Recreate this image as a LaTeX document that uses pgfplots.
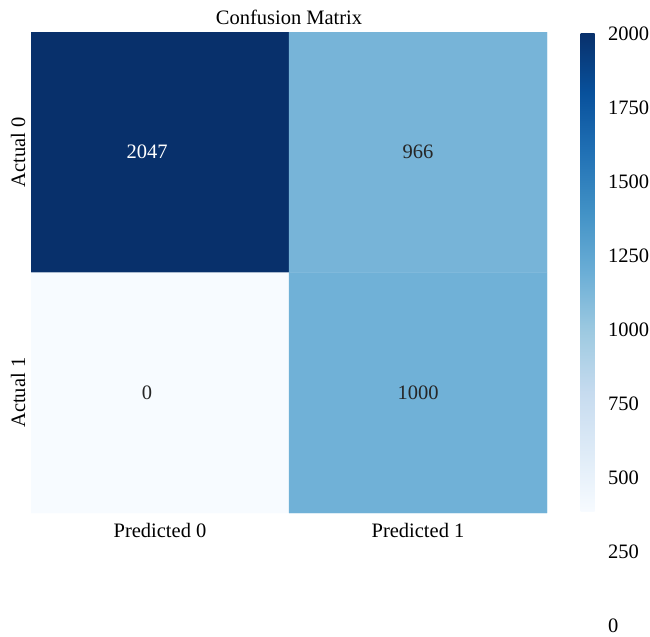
\documentclass[border=0pt]{standalone}
\usepackage{pgfplots}
\pgfplotsset{compat=1.18}
\usepackage{pgfplotstable}
\usepackage{fontspec}
\setmainfont{Liberation Serif}

\definecolor{textdark}{HTML}{262626}

% matplotlib "Blues"
\pgfplotsset{
  colormap={Blues}{
    rgb255=(247,251,255) rgb255=(222,235,247) rgb255=(198,219,239)
    rgb255=(158,202,225) rgb255=(107,174,214) rgb255=(66,146,198)
    rgb255=(33,113,181) rgb255=(8,81,156) rgb255=(8,48,107)
  },
  every axis title/.style={at={(0.5,1)}, anchor=base, yshift=8bp},
}

% confusion matrix: column x = predicted class, y = actual class,
% dx = horizontal offset of the printed count (bp)
\pgfplotstableread{
x y c    dx
0 0 2047 -13
1 0 966  0
0 1 0    -13
1 1 1000 0
}\cmdata

% cell annotation: light text on dark cells
\newcommand\cellnum{%
  \pgfmathfloattofixed{\pgfplotspointmeta}%
  \ifdim\pgfmathresult pt>1500pt\color{white}\else\color{textdark}\fi
  \pgfmathprintnumber{\pgfplotspointmeta}}

\begin{document}
\fontsize{20.5bp}{24bp}\selectfont
\begin{tikzpicture}
\path[use as bounding box] (0,0) rectangle (650bp,637bp);

\begin{axis}[
  at={(31bp,124bp)}, anchor=south west,
  scale only axis, width=516bp, height=481bp,
  xmin=-0.5, xmax=1.5, ymin=-0.5, ymax=1.5, y dir=reverse,
  axis line style={draw=none}, major tick length=0pt,
  xtick={0,1}, xticklabels={Predicted 0, Predicted 1},
  ytick={0,1}, yticklabels={Actual 0, Actual 1},
  x tick label style={anchor=base, yshift=-24bp},
  y tick label style={xshift=-6bp, rotate=90, anchor=base},
  title={Confusion Matrix},
  colormap name=Blues, point meta min=0, point meta max=2047,
  colorbar,
  colorbar style={
    at={(parent axis.north east)}, anchor=north west,
    xshift=25bp, yshift=-1bp,
    scale only axis, width=23bp, height=479bp,
    ytick=\empty, xtick=\empty, axis line style={draw=none},
  },
  /pgf/number format/1000 sep={},
  /pgf/number format/assume math mode=true,
]
\addplot[matrix plot*, mesh/cols=2, point meta=explicit]
  table[x=x, y=y, meta=c]{\cmdata};
\addplot[only marks, mark=none, point meta=explicit,
  visualization depends on={\thisrow{dx} \as \dx},
  nodes near coords={\cellnum},
  nodes near coords style={anchor=center, xshift=\dx bp}]
  table[x=x, y=y, meta=c]{\cmdata};
\end{axis}

% tick labels of the colour scale
\begin{axis}[
  at={(581bp,11bp)}, anchor=south west,
  scale only axis, width=22bp, height=593bp,
  xmin=0, xmax=1, ymin=0, ymax=2003,
  xtick=\empty, ytick={0,250,...,2000},
  yticklabel pos=right,
  axis line style={draw=none}, major tick length=0pt,
  y tick label style={anchor=west, inner xsep=0pt, xshift=5bp},
  /pgf/number format/1000 sep={},
  /pgf/number format/assume math mode=true,
]
\end{axis}
\end{tikzpicture}
\end{document}
